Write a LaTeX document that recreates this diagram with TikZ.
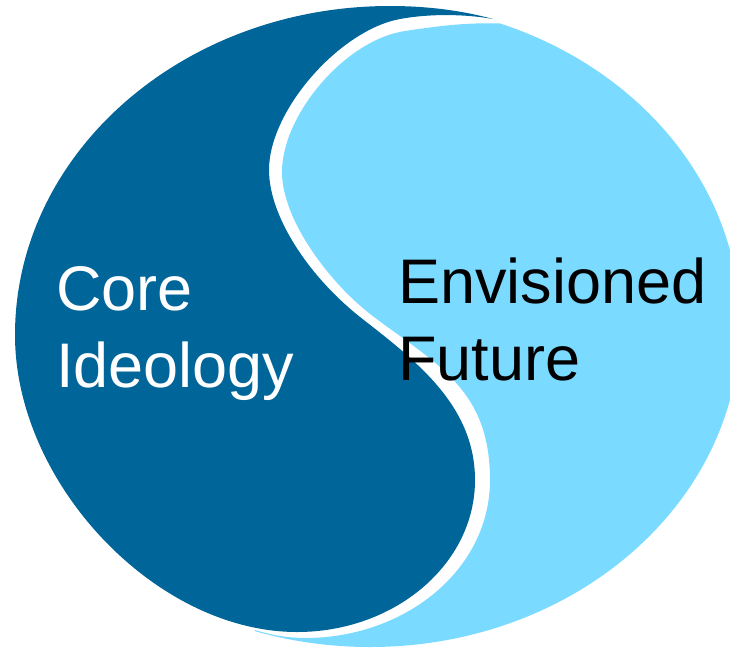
\documentclass[tikz,border=0pt]{standalone}
\usepackage{fontspec}
\setmainfont{Liberation Sans}
\definecolor{darkblue}{RGB}{0,101,153}
\definecolor{lightblue}{RGB}{122,218,255}
\begin{document}
\begin{tikzpicture}[x=1pt,y=-1pt,
  lbl/.style={anchor=base west,align=left,inner sep=0pt,font=\fontsize{63}{77}\selectfont}]
\useasboundingbox (0,0) rectangle (730,648);
\clip (0,0) rectangle (730,648);
% light half (Envisioned Future): ellipse clipped right of the S curve
\begin{scope}
  \clip (255,630) .. controls (275,636) and (290,638) .. (305,638)
        .. controls (405,638) and (490,570) .. (490,480)
        .. controls (490,390) and (438,365) .. (374,317)
        .. controls (330,284) and (282,220) .. (282,172)
        .. controls (282,115) and (345,40) .. (405,31)
        .. controls (435,26.5) and (465,22.5) .. (495,23.5)
        .. controls (515,24) and (530,15) .. (545,-20)
        -- (760,-20) -- (760,700) -- (255,700) -- cycle;
  \fill[lightblue] (370,325) ellipse [x radius=370pt, y radius=322pt];
\end{scope}
% dark half (Core Ideology)
\fill[darkblue] (493,19) .. controls (460,10) and (425,6) .. (390,6)
  .. controls (183,6) and (15,153) .. (15,335)
  .. controls (15,483.5) and (156,632) .. (297,632)
  .. controls (395,632) and (475,564) .. (475,480)
  .. controls (475,405) and (415,360) .. (360,317)
  .. controls (306.6,274.4) and (269,215) .. (269,170)
  .. controls (269,110) and (340,30) .. (400,19)
  .. controls (430,13.5) and (465,14) .. (493,19) -- cycle;
\node[lbl,text=white] (core) at (56,387) {Core\\Ideology};
\node[lbl,text=black] (future) at (398,380) {Envisioned\\Future};
\end{tikzpicture}
\end{document}
